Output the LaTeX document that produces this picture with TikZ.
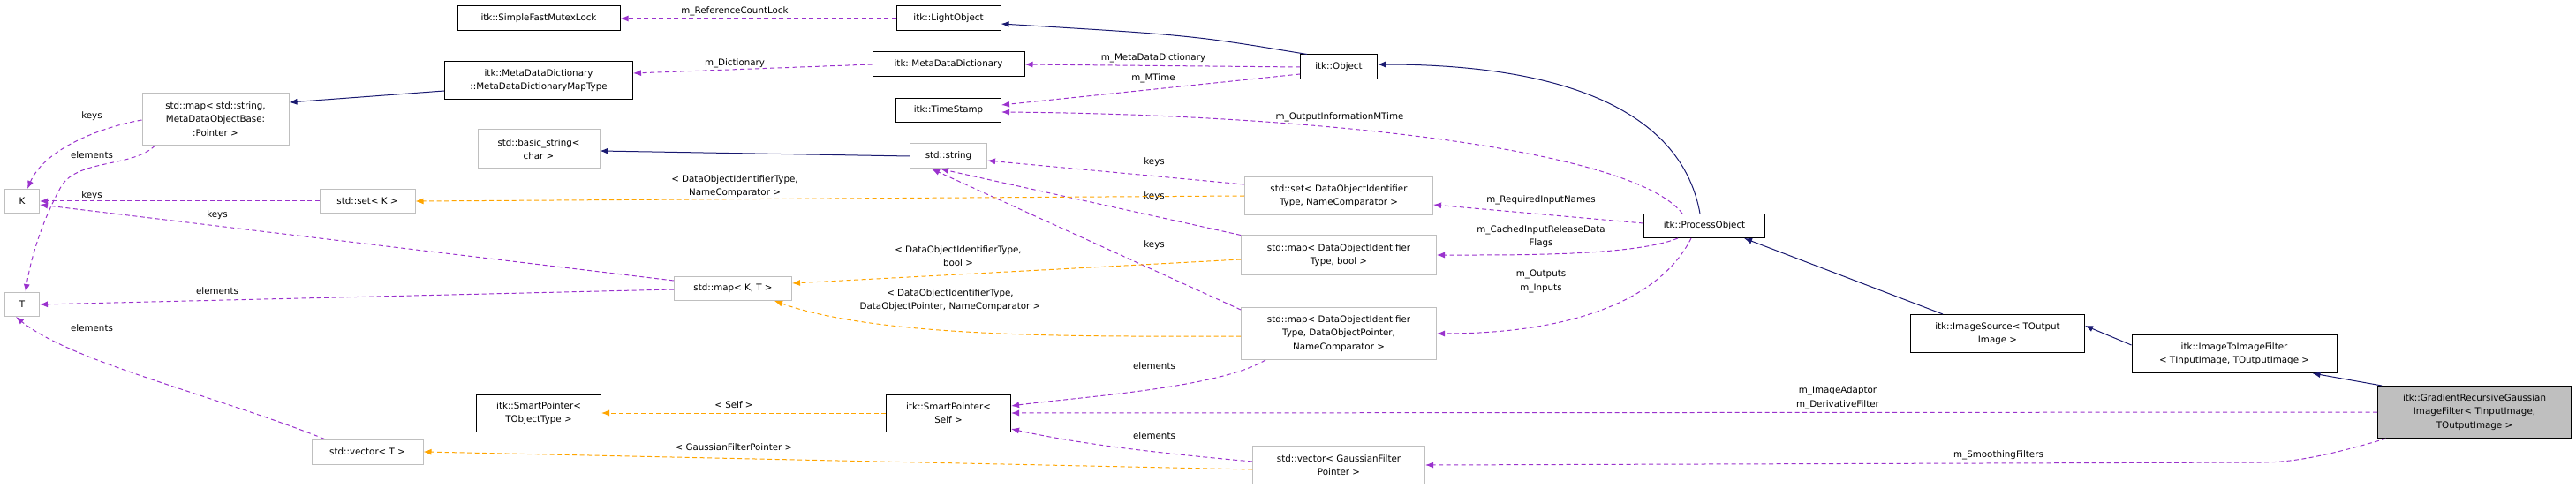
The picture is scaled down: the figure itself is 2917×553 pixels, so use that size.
\documentclass[tikz,border=0pt]{standalone}
\usepackage{fontspec}
\setmainfont{DejaVu Sans}
\usetikzlibrary{arrows.meta}
\definecolor{inhc}{HTML}{191970}
\definecolor{usec}{HTML}{9A32CD}
\definecolor{tplc}{HTML}{FFA500}
\definecolor{gbox}{HTML}{BFBFBF}
\begin{document}
\begin{tikzpicture}[x=1pt,y=-1pt,
  base/.style={rectangle,inner sep=0pt,align=center,font=\fontsize{10.3}{15.5}\selectfont,line width=1pt},
  cls/.style={base,draw=black},
  std/.style={base,draw=gbox},
  me/.style={cls,fill=gbox},
  lbl/.style={font=\fontsize{10.3}{15.5}\selectfont,align=center,inner sep=0pt},
  inh/.style={draw=inhc,line width=1pt,-{Latex[length=9pt,width=7pt]}},
  use/.style={draw=usec,line width=1pt,dash pattern=on 5pt off 3.5pt,-{Latex[length=9pt,width=7pt]}},
  tpl/.style={draw=tplc,line width=1pt,dash pattern=on 5pt off 3.5pt,-{Latex[length=9pt,width=7pt]}}]
\path[use as bounding box] (0,0) rectangle (2917,553);

\node[cls,minimum width=184,minimum height=28] (mutex) at (610,21) {itk::SimpleFastMutexLock};
\node[cls,minimum width=118,minimum height=28] (light) at (1074,21) {itk::LightObject};
\node[cls,minimum width=213,minimum height=43] (mdmt) at (610,91) {itk::MetaDataDictionary\\::MetaDataDictionaryMapType};
\node[cls,minimum width=172,minimum height=28] (mdd) at (1074,73) {itk::MetaDataDictionary};
\node[cls,minimum width=87,minimum height=28] (obj) at (1516,76) {itk::Object};
\node[cls,minimum width=119,minimum height=27] (ts) at (1074,125) {itk::TimeStamp};
\node[std,minimum width=166,minimum height=59] (mapss) at (244,135) {std::map< std::string,\\ MetaDataObjectBase:\\:Pointer >};
\node[std,minimum width=138,minimum height=44] (bstr) at (610,169) {std::basic\_string<\\ char >};
\node[std,minimum width=87,minimum height=28] (str) at (1074,177) {std::string};
\node[std,minimum width=39,minimum height=27] (K) at (25,228) {K};
\node[std,minimum width=108,minimum height=27] (setK) at (416,228) {std::set< K >};
\node[std,minimum width=213,minimum height=43] (setD) at (1516,222) {std::set< DataObjectIdentifier\\Type, NameComparator >};
\node[cls,minimum width=137,minimum height=27] (proc) at (1930,256) {itk::ProcessObject};
\node[std,minimum width=221,minimum height=44] (mapB) at (1516,289) {std::map< DataObjectIdentifier\\Type, bool >};
\node[std,minimum width=133,minimum height=27] (mapKT) at (830,327) {std::map< K, T >};
\node[std,minimum width=39,minimum height=27] (T) at (25,345) {T};
\node[std,minimum width=221,minimum height=59] (mapP) at (1516,378) {std::map< DataObjectIdentifier\\Type, DataObjectPointer,\\ NameComparator >};
\node[cls,minimum width=197,minimum height=43] (isrc) at (2262,378) {itk::ImageSource< TOutput\\ Image >};
\node[cls,minimum width=232,minimum height=43] (i2i) at (2530,401) {itk::ImageToImageFilter\\< TInputImage, TOutputImage >};
\node[me,minimum width=219,minimum height=59] (grad) at (2802,467) {itk::GradientRecursiveGaussian\\ImageFilter< TInputImage,\\ TOutputImage >};
\node[cls,minimum width=141,minimum height=42] (spT) at (610,468) {itk::SmartPointer<\\ TObjectType >};
\node[cls,minimum width=141,minimum height=42] (spS) at (1074,468) {itk::SmartPointer<\\ Self >};
\node[std,minimum width=126,minimum height=28] (vecT) at (416,512) {std::vector< T >};
\node[std,minimum width=195,minimum height=43] (vecG) at (1516,527) {std::vector< GaussianFilter\\ Pointer >};

% inheritance
\draw[inh] ([xshift=8pt]obj.north west) .. controls (1350,40) .. ([yshift=-6pt]light.east);
\draw[inh] ([xshift=-5pt]proc.north) .. controls (1905,130) and (1780,73) .. ([yshift=3pt]obj.east);
\draw[inh] ([yshift=-12pt]mdmt.west) -- ([yshift=-11pt]mapss.north east);
\draw[inh] (str.west) -- ([yshift=-2pt]bstr.east);
\draw[inh] ([xshift=-62pt]isrc.north) -- ([xshift=45pt]proc.south);
\draw[inh] ([yshift=-12pt]i2i.north west) -- ([yshift=9pt]isrc.east);
\draw[inh] ([xshift=5pt]grad.north west) -- ([xshift=-28pt]i2i.south east);

% usage
\draw[use] (light.west) -- (mutex.east);
\node[lbl] (l1) at (832,13) {m\_ReferenceCountLock};
\draw[use] (mdd.west) -- ([yshift=8pt]mdmt.east);
\node[lbl] (l2) at (832,72) {m\_Dictionary};
\draw[use] (obj.west) -- (mdd.east);
\node[lbl] (l3) at (1306,66) {m\_MetaDataDictionary};
\draw[use] ([yshift=-8pt]obj.west) -- ([yshift=6pt]ts.east);
\node[lbl] (l4) at (1306,89) {m\_MTime};
\draw[use] ([xshift=-25pt]proc.north) .. controls (1850,170) and (1500,130) .. ([yshift=-2pt]ts.east);
\node[lbl] (l5) at (1517,133) {m\_OutputInformationMTime};
\draw[use] ([yshift=-9pt]setD.north west) -- ([yshift=-5pt]str.east);
\node[lbl] (l6) at (1307,184) {keys};
\draw[use] (mapB.north west) -- ([xshift=35pt]str.south west);
\node[lbl] (l7) at (1307,223) {keys};
\draw[use] ([yshift=-3pt]mapP.north west) -- ([xshift=25pt]str.south west);
\node[lbl] (l8) at (1307,278) {keys};
\draw[use] ([yshift=3pt]proc.west) -- ([yshift=-10pt]setD.east);
\node[lbl] (l9) at (1745,227) {m\_RequiredInputNames};
\draw[use] ([xshift=-30pt]proc.south) .. controls (1850,290) and (1720,289) .. (mapB.east);
\node[lbl] (l10) at (1745,268) {m\_CachedInputReleaseData\\Flags};
\draw[use] ([xshift=-15pt]proc.south) .. controls (1880,340) and (1780,378) .. (mapP.east);
\node[lbl] (l11) at (1745,319) {m\_Outputs\\m\_Inputs};
\draw[use] ([xshift=28pt]mapP.south west) .. controls (1380,440) and (1220,450) .. ([yshift=8pt]spS.east);
\node[lbl] (l12) at (1307,415) {elements};
\draw[use] ([yshift=4pt]vecG.west) .. controls (1330,515) and (1230,505) .. ([yshift=-18pt]spS.east);
\node[lbl] (l13) at (1307,494) {elements};
\draw[use] (grad.west) -- (spS.east);
\node[lbl] (l14) at (2081,451) {m\_ImageAdaptor\\m\_DerivativeFilter};
\draw[use] ([xshift=10pt]grad.south west) .. controls (2640,515) and (2600,524) .. (2560,524) -- (vecG.east);
\node[lbl] (l15) at (2263,516) {m\_SmoothingFilters};
\draw[use] ([yshift=-1pt]mapss.west) .. controls (110,145) and (50,170) .. ([xshift=6pt]K.north);
\node[lbl] (l16) at (104,132) {keys};
\draw[use] ([xshift=15pt]mapss.south west) .. controls (150,190) and (90,180) .. (70,210) .. controls (50,245) and (35,290) .. ([xshift=4pt]T.north);
\node[lbl] (l17) at (104,176) {elements};
\draw[use] (setK.west) -- (K.east);
\node[lbl] (l18) at (104,222) {keys};
\draw[use] ([yshift=-5pt]mapKT.north west) -- ([yshift=-4pt]K.east);
\node[lbl] (l19) at (246,244) {keys};
\draw[use] ([yshift=-1pt]mapKT.west) -- (T.east);
\node[lbl] (l20) at (246,330) {elements};
\draw[use] ([xshift=15pt]vecT.north west) .. controls (250,450) and (80,410) .. ([xshift=13pt]T.south west);
\node[lbl] (l21) at (104,372) {elements};

% template
\draw[tpl] (setD.west) -- (setK.east);
\node[lbl] (l22) at (832,211) {< DataObjectIdentifierType,\\NameComparator >};
\draw[tpl] ([yshift=-5pt]mapB.west) -- ([yshift=6pt]mapKT.east);
\node[lbl] (l23) at (1085,290) {< DataObjectIdentifierType,\\bool >};
\draw[tpl] ([yshift=-3pt]mapP.west) .. controls (1250,381) and (1000,385) .. ([xshift=-20pt]mapKT.south east);
\node[lbl] (l24) at (1076,340) {< DataObjectIdentifierType,\\DataObjectPointer, NameComparator >};
\draw[tpl] (spS.west) -- (spT.east);
\node[lbl] (l25) at (831,459) {< Self >};
\draw[tpl] ([yshift=-5pt]vecG.west) -- (vecT.east);
\node[lbl] (l26) at (831,507) {< GaussianFilterPointer >};
\end{tikzpicture}
\end{document}
